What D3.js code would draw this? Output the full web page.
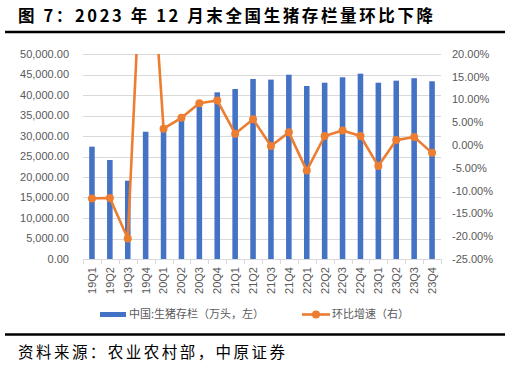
<!DOCTYPE html>
<html>
<head>
<meta charset="utf-8">
<script src="https://cdn.jsdelivr.net/npm/d3@7"></script>
<style>
  html, body { margin: 0; padding: 0; background: #ffffff; }
  svg { display: block; }
</style>
</head>
<body>
<svg id="chart" width="511" height="367"></svg>
<script>
// ---- data ----
const quarters = ["19Q1","19Q2","19Q3","19Q4","20Q1","20Q2","20Q3","20Q4","21Q1","21Q2","21Q3","21Q4","22Q1","22Q2","22Q3","22Q4","23Q1","23Q2","23Q3","23Q4"];
const stock = [27400, 24150, 19100, 31041, 32120, 34000, 37100, 40650, 41460, 43900, 43750, 44950, 42200, 43000, 44320, 45200, 43000, 43500, 44100, 43350];
const growth = [-11.7, -11.6, -20.5, 62.5, 3.6, 6.0, 9.2, 9.8, 2.5, 5.7, -0.2, 2.8, -5.6, 2.0, 3.2, 2.0, -4.6, 1.1, 1.8, -1.7];
const leftTicks = [0, 5000, 10000, 15000, 20000, 25000, 30000, 35000, 40000, 45000, 50000];
const rightTicks = [-25, -20, -15, -10, -5, 0, 5, 10, 15, 20];
const titleText = "图 7：2023 年 12 月末全国生猪存栏量环比下降";
const sourceText = "资料来源：农业农村部，中原证券";
const legendBar = "中国:生猪存栏（万头，左）";
const legendLine = "环比增速（右）";

// ---- layout ----
const svg = d3.select("#chart");
const plot = { left: 83, right: 441, top: 54, bottom: 259 };
const blue = "#4472C4", orange = "#ED7D31", grey = "#595959", gridC = "#d9d9d9";
const font = "'Liberation Sans', Arial, sans-serif";
const cjk = "'Noto Sans CJK SC', 'Liberation Sans', sans-serif";

const x = d3.scaleBand().domain(quarters).range([plot.left, plot.right])
  .paddingInner(0.69).paddingOuter(0.345);
const yL = d3.scaleLinear().domain([0, 50000]).range([plot.bottom, plot.top]);
const yR = d3.scaleLinear().domain([-25, 20]).range([plot.bottom, plot.top]);

// title
svg.append("text").attr("x", 18).attr("y", 22)
  .attr("font-family", cjk).attr("font-weight", 700).attr("font-size", 16.5)
  .attr("fill", "#000").attr("textLength", 415).attr("lengthAdjust", "spacing")
  .text(titleText);
svg.append("line").attr("x1", 5).attr("x2", 505).attr("y1", 32).attr("y2", 32)
  .attr("stroke", "#000").attr("stroke-width", 2.5);

// gridlines
svg.append("g").selectAll("line").data(leftTicks.filter(d => d > 0)).join("line")
  .attr("x1", plot.left).attr("x2", plot.right)
  .attr("y1", d => Math.round(yL(d)) + 0.5).attr("y2", d => Math.round(yL(d)) + 0.5)
  .attr("stroke", gridC).attr("stroke-width", 1);

// left axis labels
const fmtL = d3.format(",.2f");
svg.append("g").selectAll("text").data(leftTicks).join("text")
  .attr("x", 69).attr("y", d => yL(d)).attr("dy", "0.35em")
  .attr("text-anchor", "end").attr("font-family", font).attr("font-size", 11)
  .attr("fill", grey).text(d => fmtL(d));

// right axis labels
svg.append("g").selectAll("text").data(rightTicks).join("text")
  .attr("x", 452).attr("y", d => yR(d)).attr("dy", "0.35em")
  .attr("text-anchor", "start").attr("font-family", font).attr("font-size", 11)
  .attr("fill", grey).text(d => d.toFixed(2) + "%");

// x axis line and ticks
const xAxis = d3.axisBottom(x).tickSize(0).tickFormat("");
const xa = svg.append("g").attr("transform", `translate(0,${plot.bottom + 0.5})`).call(xAxis);
xa.select(".domain").attr("stroke", gridC).attr("d", `M${plot.left},0H${plot.right}`);
const step = x.step();
svg.append("g").selectAll("line").data(d3.range(quarters.length + 1)).join("line")
  .attr("x1", i => Math.round(plot.left + i * step) + 0.5)
  .attr("x2", i => Math.round(plot.left + i * step) + 0.5)
  .attr("y1", plot.bottom).attr("y2", plot.bottom + 5)
  .attr("stroke", gridC);

// x labels
svg.append("g").selectAll("text").data(quarters).join("text")
  .attr("transform", d => `translate(${x(d) + x.bandwidth() / 2},${plot.bottom + 8}) rotate(-90)`)
  .attr("text-anchor", "end").attr("dy", "0.35em")
  .attr("font-family", font).attr("font-size", 11).attr("fill", grey)
  .text(d => d);

// bars
svg.append("g").selectAll("rect").data(quarters).join("rect")
  .attr("x", (d) => x(d)).attr("width", x.bandwidth())
  .attr("y", (d, i) => yL(stock[i])).attr("height", (d, i) => plot.bottom - yL(stock[i]))
  .attr("fill", blue);

// clip for line
svg.append("clipPath").attr("id", "clip").append("rect")
  .attr("x", plot.left - 6).attr("y", plot.top)
  .attr("width", plot.right - plot.left + 12).attr("height", plot.bottom - plot.top + 6);

const cx = d => x(d) + x.bandwidth() / 2;
const line = d3.line().x((d, i) => cx(quarters[i])).y(d => yR(d));
const lg = svg.append("g").attr("clip-path", "url(#clip)");
lg.append("path").datum(growth).attr("d", line)
  .attr("fill", "none").attr("stroke", orange).attr("stroke-width", 2.6)
  .attr("stroke-linejoin", "round");
lg.selectAll("circle").data(growth).join("circle")
  .attr("cx", (d, i) => cx(quarters[i])).attr("cy", d => yR(d)).attr("r", 4)
  .attr("fill", orange);

// legend
const ly = 314.5;
svg.append("rect").attr("x", 100).attr("y", ly - 2.5).attr("width", 26).attr("height", 5).attr("fill", blue);
svg.append("text").attr("x", 129).attr("y", ly).attr("dy", "0.35em")
  .attr("font-family", cjk).attr("font-size", 11).attr("fill", grey).text(legendBar);
svg.append("line").attr("x1", 302).attr("x2", 330).attr("y1", ly).attr("y2", ly)
  .attr("stroke", orange).attr("stroke-width", 2.6);
svg.append("circle").attr("cx", 316).attr("cy", ly).attr("r", 4).attr("fill", orange);
svg.append("text").attr("x", 332).attr("y", ly).attr("dy", "0.35em")
  .attr("font-family", cjk).attr("font-size", 11).attr("fill", grey).text(legendLine);

// source
svg.append("line").attr("x1", 5).attr("x2", 505).attr("y1", 334.5).attr("y2", 334.5)
  .attr("stroke", "#000").attr("stroke-width", 2.5);
svg.append("text").attr("x", 18).attr("y", 358)
  .attr("font-family", cjk).attr("font-size", 15.5).attr("fill", "#000")
  .attr("textLength", 267).attr("lengthAdjust", "spacing")
  .text(sourceText);
</script>
</body>
</html>
